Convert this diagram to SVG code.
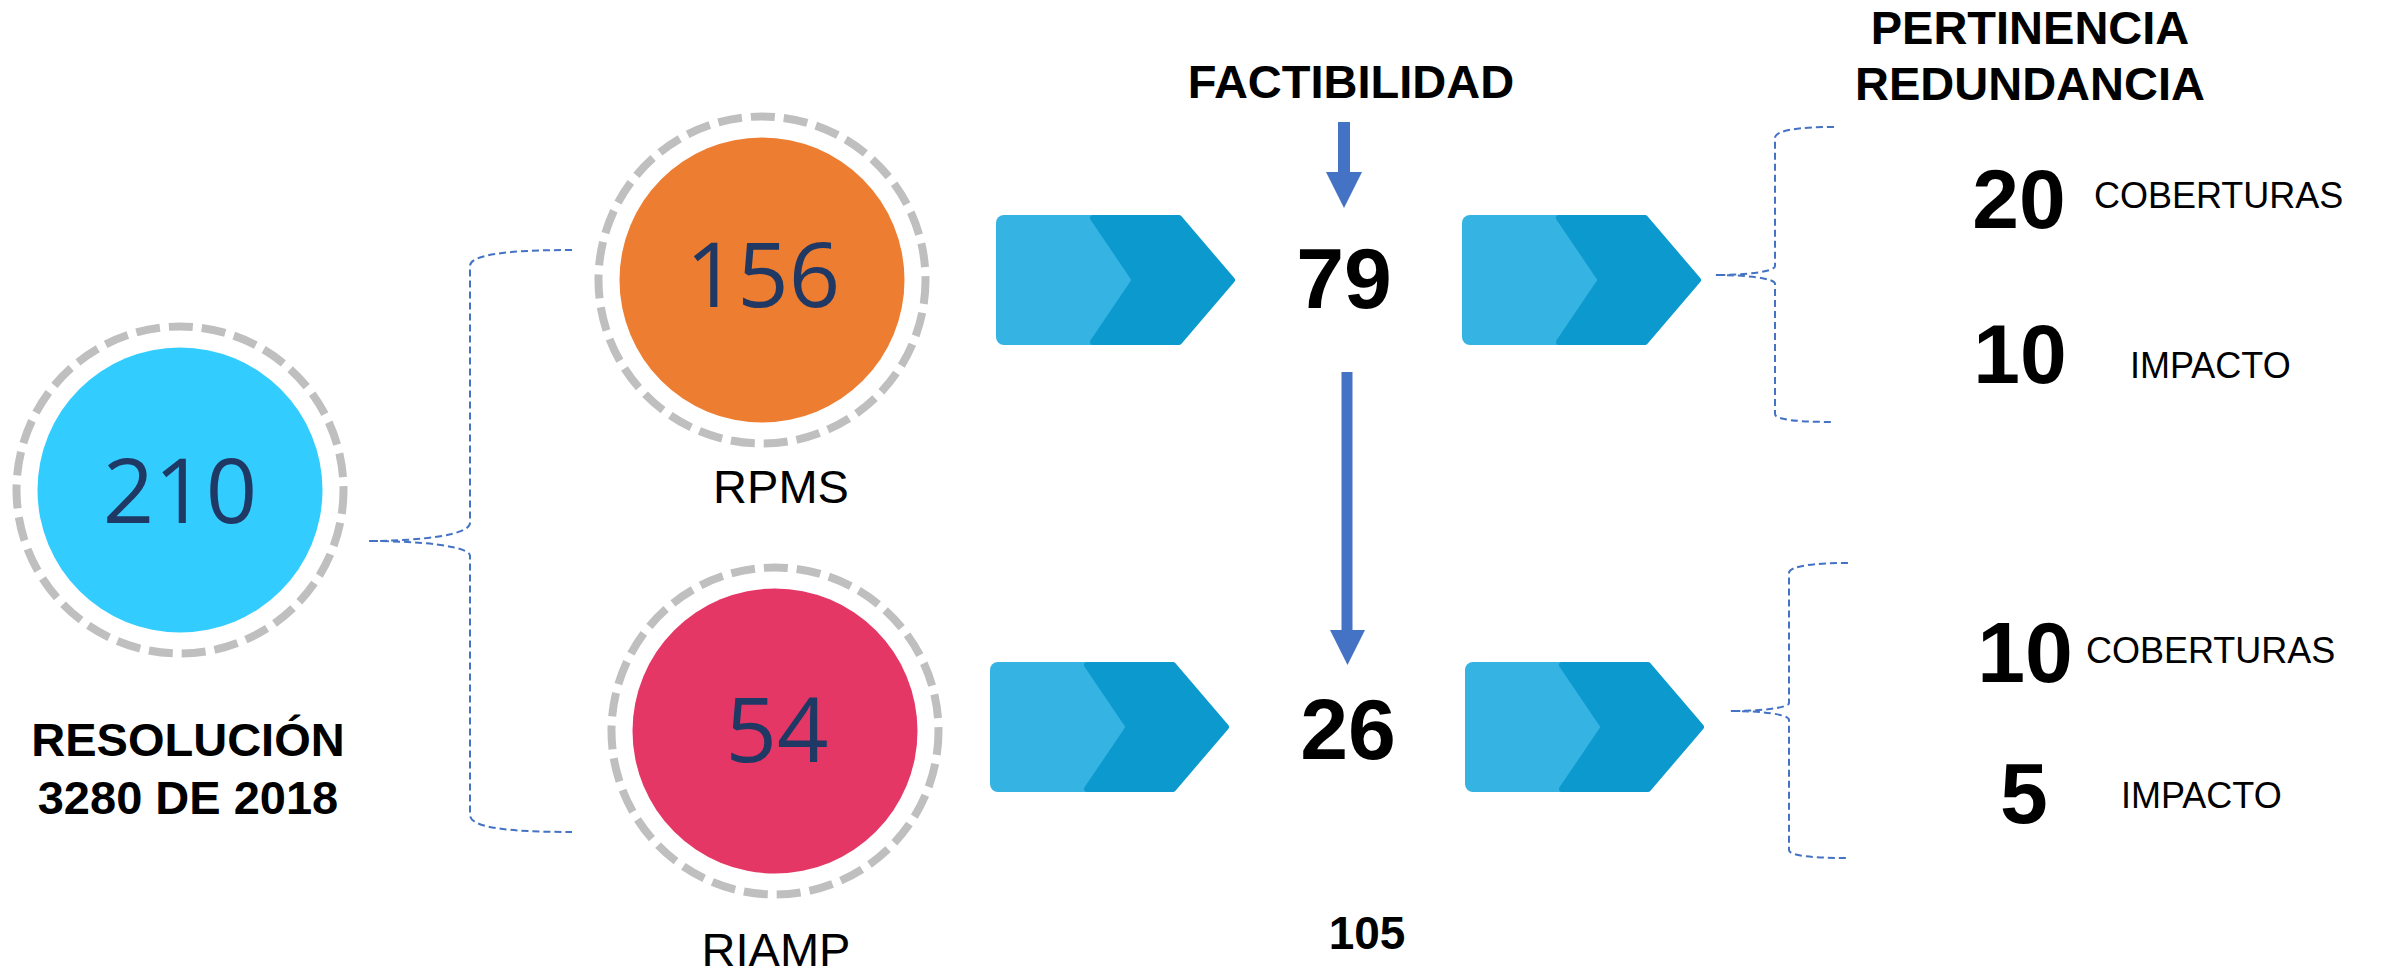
<svg xmlns="http://www.w3.org/2000/svg" width="2384" height="974" viewBox="0 0 2384 974">
  <style>
    .ring { fill: none; stroke: #BFBFBF; stroke-width: 8; stroke-dasharray: 24 9; }
    .num { font-family: "Open Sans", "Noto Sans", sans-serif; font-size: 90px; fill: #1F3864; text-anchor: middle; }
    .lbl { font-family: "Liberation Sans", Arial, sans-serif; font-size: 47px; fill: #000; text-anchor: middle; }
    .bold { font-family: "Liberation Sans", Arial, sans-serif; font-weight: bold; fill: #000; }
    .big { font-size: 86px; text-anchor: middle; }
    .sm { font-family: "Liberation Sans", Arial, sans-serif; font-size: 36px; fill: #000; }
    .brace { fill: none; stroke: #4472C4; stroke-width: 2; stroke-dasharray: 7 4; }
    .arrow { fill: #4472C4; }
    .cl { fill: #35B3E3; }
    .cd { fill: #0C9ACE; stroke: #0C9ACE; stroke-width: 6; stroke-linejoin: round; }
  </style>
  <defs>
    <g id="chev">
      <rect class="cl" x="0" y="0" width="150" height="130" rx="8"/>
      <polygon class="cd" points="97,3 183,3 236,65 183,127 97,127 139,65"/>
    </g>
  </defs>
  <rect width="2384" height="974" fill="#FFFFFF"/>

  <g id="connectors">
    <path class="brace" d="M572,250 C505,250 470,255 470,266 L470,523 C470,535 420,541 368,541 C420,541 470,546 470,556 L470,815 C470,827 505,832 572,832"/>
    <path class="brace" d="M1834,127 C1800,127 1775,130 1775,138 L1775,266 C1775,272 1745,275 1715,275 C1745,275 1775,278 1775,284 L1775,414 C1775,420 1800,422 1834,422"/>
    <path class="brace" d="M1848,563 C1815,563 1789,566 1789,573 L1789,703 C1789,708 1760,711 1730,711 C1760,711 1789,714 1789,720 L1789,850 C1789,856 1815,858 1848,858"/>
    <polygon class="arrow" points="1338,122 1350,122 1350,172 1362,172 1344,208 1326,172 1338,172"/>
    <polygon class="arrow" points="1341.5,372 1352.5,372 1352.5,630 1365,630 1347.5,665 1330,630 1341.5,630"/>
  </g>

  <g id="node-210">
    <circle class="ring" cx="180" cy="490" r="163.5"/>
    <circle cx="180" cy="490" r="142.5" fill="#33CCFF"/>
    <text class="num" x="180" y="523">210</text>
  </g>
  <g id="label-resolucion">
    <text class="bold" font-size="47" text-anchor="middle" x="188" y="756">RESOLUCIÓN</text>
    <text class="bold" font-size="47" text-anchor="middle" x="188" y="814">3280 DE 2018</text>
  </g>

  <g id="node-156">
    <circle class="ring" cx="762" cy="280" r="163.5"/>
    <circle cx="762" cy="280" r="142.5" fill="#ED7D31"/>
    <text class="num" x="763" y="307">156</text>
    <text class="lbl" x="781" y="503">RPMS</text>
  </g>

  <g id="node-54">
    <circle class="ring" cx="775" cy="731" r="163.5"/>
    <circle cx="775" cy="731" r="142.5" fill="#E43765"/>
    <text class="num" x="777" y="762">54</text>
    <text class="lbl" x="776" y="966">RIAMP</text>
  </g>

  <g id="label-factibilidad">
    <text class="bold" font-size="47" text-anchor="middle" x="1351" y="98">FACTIBILIDAD</text>
  </g>

  <g id="chevron-top-left"><use href="#chev" transform="translate(996,215)"/></g>
  <g id="node-79"><text class="bold big" x="1344" y="308">79</text></g>
  <g id="chevron-top-right"><use href="#chev" transform="translate(1462,215)"/></g>

  <g id="chevron-bottom-left"><use href="#chev" transform="translate(990,662)"/></g>
  <g id="node-26"><text class="bold big" x="1348" y="759">26</text></g>
  <g id="chevron-bottom-right"><use href="#chev" transform="translate(1465,662)"/></g>

  <g id="label-105">
    <text class="bold" font-size="46" text-anchor="middle" x="1367" y="949">105</text>
  </g>

  <g id="label-pertinencia">
    <text class="bold" font-size="47" text-anchor="middle" x="2030" y="44">PERTINENCIA</text>
    <text class="bold" font-size="47" text-anchor="middle" x="2030" y="100">REDUNDANCIA</text>
  </g>

  <g id="result-top">
    <text class="bold" font-size="84" text-anchor="middle" x="2019" y="228">20</text>
    <text class="sm" x="2094" y="208">COBERTURAS</text>
    <text class="bold" font-size="84" text-anchor="middle" x="2020" y="383">10</text>
    <text class="sm" x="2130" y="378">IMPACTO</text>
  </g>

  <g id="result-bottom">
    <text class="bold" font-size="86" text-anchor="middle" x="2025" y="682">10</text>
    <text class="sm" x="2086" y="663">COBERTURAS</text>
    <text class="bold" font-size="86" text-anchor="middle" x="2024" y="823">5</text>
    <text class="sm" x="2121" y="808">IMPACTO</text>
  </g>
</svg>
